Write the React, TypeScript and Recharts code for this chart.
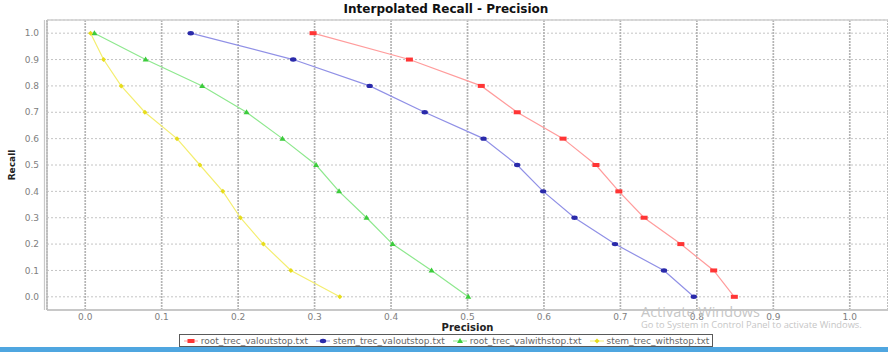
import React from 'react';
import {
  ScatterChart, Scatter, XAxis, YAxis, CartesianGrid, ReferenceLine, Legend,
} from 'recharts';

const recallLevels = [1.0, 0.9, 0.8, 0.7, 0.6, 0.5, 0.4, 0.3, 0.2, 0.1, 0.0];
const rootValoutstopPrecision = [0.298, 0.424, 0.518, 0.565, 0.625, 0.668, 0.698, 0.731, 0.779, 0.822, 0.849];
const stemValoutstopPrecision = [0.138, 0.272, 0.372, 0.444, 0.521, 0.565, 0.599, 0.640, 0.693, 0.757, 0.796];
const rootValwithstopPrecision = [0.012, 0.079, 0.153, 0.211, 0.258, 0.302, 0.332, 0.368, 0.402, 0.453, 0.501];
const stemWithstopPrecision = [0.007, 0.024, 0.047, 0.078, 0.120, 0.150, 0.180, 0.203, 0.233, 0.269, 0.333];
const tickValues = [0, 0.1, 0.2, 0.3, 0.4, 0.5, 0.6, 0.7, 0.8, 0.9, 1.0];
const seriesNames = [
  'root_trec_valoutstop.txt',
  'stem_trec_valoutstop.txt',
  'root_trec_valwithstop.txt',
  'stem_trec_withstop.txt',
];

const toPoints = (prec: number[]) => prec.map((p, i) => ({ precision: p, recall: recallLevels[i] }));

type MarkerKind = 'rect' | 'ellipse' | 'triangle' | 'diamond';

const series = [
  { name: seriesNames[0], data: toPoints(rootValoutstopPrecision), line: '#ff9c9c', fill: '#ff3535', kind: 'rect' as MarkerKind },
  { name: seriesNames[1], data: toPoints(stemValoutstopPrecision), line: '#9090e6', fill: '#2a2aaa', kind: 'ellipse' as MarkerKind },
  { name: seriesNames[2], data: toPoints(rootValwithstopPrecision), line: '#8ee88e', fill: '#3ccc3c', kind: 'triangle' as MarkerKind },
  { name: seriesNames[3], data: toPoints(stemWithstopPrecision), line: '#f4ee70', fill: '#e6dc1c', kind: 'diamond' as MarkerKind },
];

function marker(kind: MarkerKind, cx: number, cy: number, fill: string) {
  if (kind === 'rect') return <rect x={cx - 3.5} y={cy - 2} width={7} height={4} fill={fill} />;
  if (kind === 'ellipse') return <ellipse cx={cx} cy={cy} rx={3.2} ry={2.2} fill={fill} />;
  if (kind === 'triangle') return <polygon points={`${cx},${cy - 3} ${cx + 3},${cy + 2} ${cx - 3},${cy + 2}`} fill={fill} />;
  return <polygon points={`${cx},${cy - 2.5} ${cx + 2.5},${cy} ${cx},${cy + 2.5} ${cx - 2.5},${cy}`} fill={fill} />;
}

const fmt = (v: number) => v.toFixed(1);

const LegendBox = () => (
  <div style={{ height: 16, display: 'flex', justifyContent: 'center', alignItems: 'flex-start' }}>
    <div
      style={{
        display: 'flex', alignItems: 'center', border: '1px solid #5a5a5a', height: 13,
        padding: '0 3px 0 4px', fontFamily: '"DejaVu Sans", sans-serif', fontSize: 9, color: '#666',
        background: '#fff', boxSizing: 'border-box', marginLeft: 4,
      }}
    >
      {series.map((s, i) => (
        <span key={s.name} style={{ display: 'flex', alignItems: 'center', marginLeft: i === 0 ? 0 : 8 }}>
          <svg width={14} height={8} style={{ marginRight: 3 }}>
            <line x1={0} y1={4} x2={14} y2={4} stroke={s.line} strokeWidth={1} />
            {marker(s.kind, 7, 4, s.fill)}
          </svg>
          {s.name}
        </span>
      ))}
    </div>
  </div>
);

export default function App() {
  return (
    <div style={{ position: 'absolute', left: 0, top: 0, width: 888, height: 352, overflow: 'hidden', background: '#fff' }}>
      <div
        style={{
          position: 'absolute', left: 0, top: 2, width: 892, textAlign: 'center',
          fontFamily: '"DejaVu Sans", sans-serif', fontWeight: 'bold', fontSize: 12, color: '#111',
        }}
      >
        Interpolated Recall - Precision
      </div>
      <ScatterChart width={888} height={352} margin={{ top: 20, right: 0, bottom: 2, left: 0 }}>
        <CartesianGrid horizontal vertical={false} stroke="#c4c4c4" strokeDasharray="2 2" />
        <CartesianGrid horizontal={false} vertical stroke="#b4b4b4" strokeWidth={1.7} strokeDasharray="2 1" />
        <XAxis
          type="number"
          dataKey="precision"
          domain={[-0.05, 1.05]}
          ticks={tickValues}
          allowDataOverflow
          tickFormatter={fmt}
          height={24}
          tickSize={0}
          tickMargin={4}
          tickLine={false}
          axisLine={{ stroke: '#c8c8c8', strokeWidth: 2 }}
          tick={{ fill: '#808080', fontSize: 9, fontFamily: '"DejaVu Sans", sans-serif' }}
          label={(p: any) => {
            const vb = p.viewBox || { x: 47, y: 310, width: 841 };
            return (
              <text x={vb.x + vb.width / 2} y={vb.y + 21} textAnchor="middle" fontSize={10} fontWeight="bold"
                fontFamily='"DejaVu Sans", sans-serif' fill="#222">Precision</text>
            );
          }}
        />
        <YAxis
          type="number"
          dataKey="recall"
          domain={[-0.05, 1.05]}
          ticks={tickValues}
          allowDataOverflow
          tickFormatter={fmt}
          width={47}
          tickSize={0}
          tickMargin={8}
          tickLine={false}
          axisLine={{ stroke: '#bcbcbc', strokeWidth: 1.5 }}
          tick={{ fill: '#808080', fontSize: 9, fontFamily: '"DejaVu Sans", sans-serif' }}
          label={(p: any) => {
            const vb = p.viewBox || { x: 0, y: 20, width: 47, height: 290 };
            const cx = vb.x + 12;
            const cy = vb.y + vb.height / 2;
            return (
              <text x={cx} y={cy} transform={`rotate(-90 ${cx} ${cy})`} textAnchor="middle" dominantBaseline="central"
                fontSize={9} fontWeight="bold" fontFamily='"DejaVu Sans", sans-serif' fill="#222">Recall</text>
            );
          }}
        />
        <ReferenceLine y={1.05} stroke="#cfcfcf" strokeWidth={1.5} ifOverflow="visible" />
        <ReferenceLine x={-0.0533} stroke="#c8c8c8" strokeWidth={1.2} ifOverflow="visible" />
        <Legend verticalAlign="bottom" align="center" content={() => <LegendBox />} />
        {series.map((s) => (
          <Scatter
            key={s.name}
            name={s.name}
            data={s.data}
            line={{ stroke: s.line, strokeWidth: 1.2 }}
            lineType="joint"
            isAnimationActive={false}
            shape={(p: any) => marker(s.kind, p.cx, p.cy, s.fill)}
          />
        ))}
      </ScatterChart>
      <div style={{ position: 'absolute', left: 641, top: 304, fontFamily: '"Open Sans", sans-serif', fontSize: 14.5, color: '#c6c6c6', lineHeight: '15px' }}>
        Activate Windows
      </div>
      <div style={{ position: 'absolute', left: 641, top: 320, fontFamily: '"Open Sans", sans-serif', fontSize: 9.3, color: '#c6c6c6', lineHeight: '10px' }}>
        Go to System in Control Panel to activate Windows.
      </div>
      <div style={{ position: 'absolute', left: 0, top: 347, width: 888, height: 5, background: '#4fa6e0' }} />
    </div>
  );
}
